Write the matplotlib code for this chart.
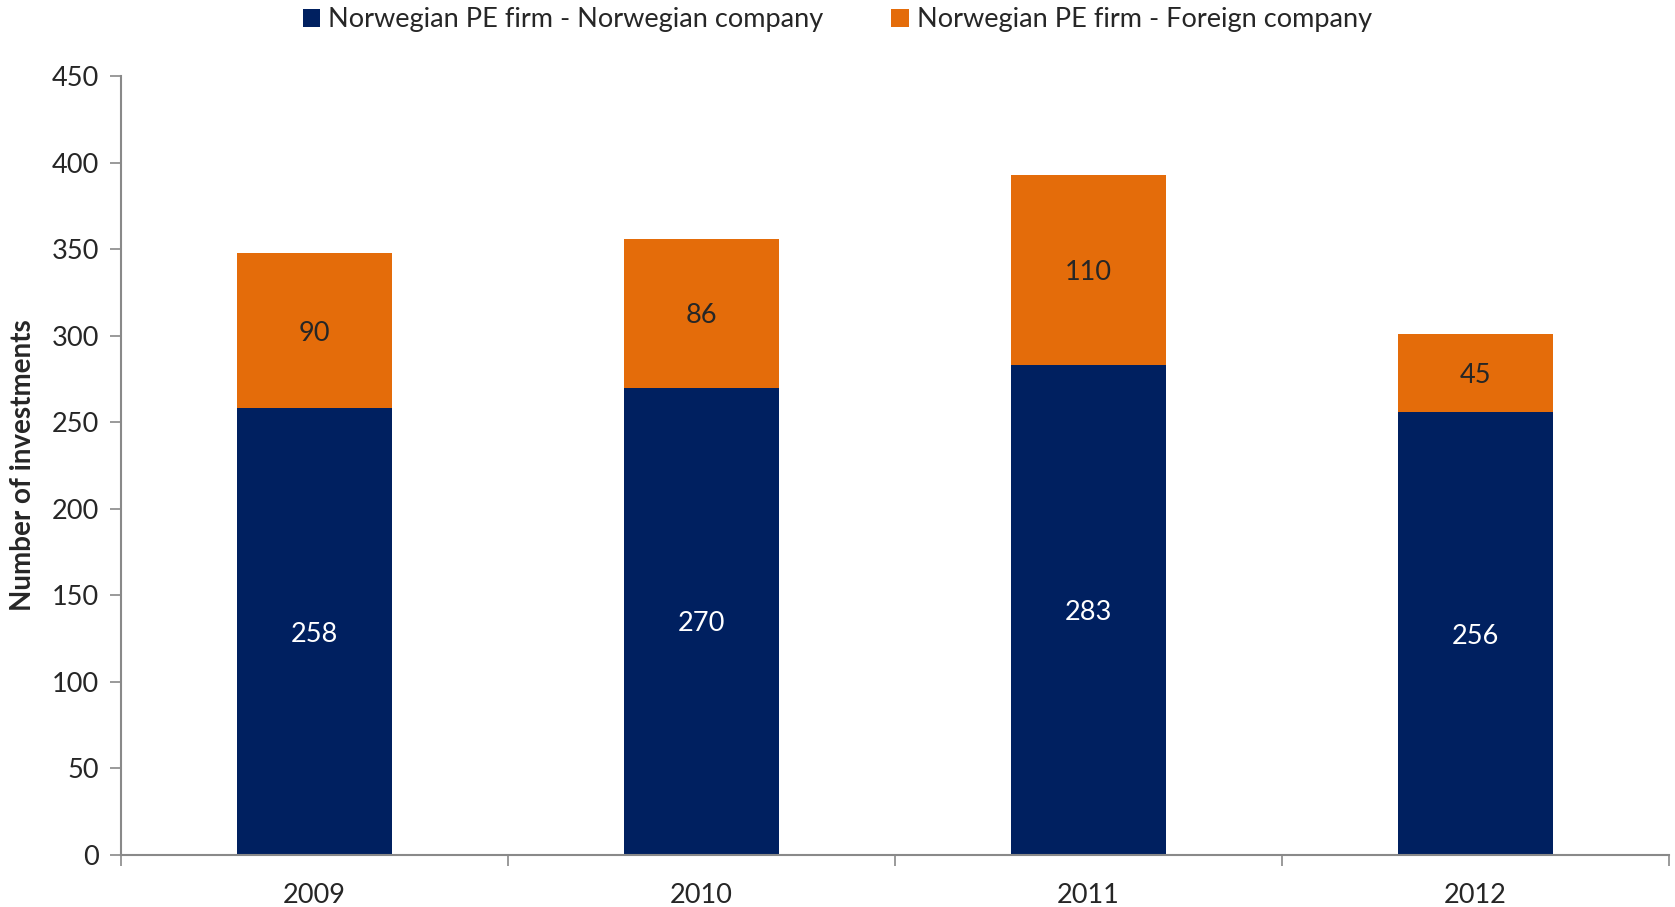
import matplotlib
matplotlib.use('Agg')
import matplotlib.pyplot as plt
import numpy as np

plt.rcParams['font.family'] = ['Lato', 'DejaVu Sans']

years = ['2009', '2010', '2011', '2012']
norw_company = [258, 270, 283, 256]
foreign_company = [90, 86, 110, 45]
labels = ['Norwegian PE firm - Norwegian company', 'Norwegian PE firm - Foreign company']

navy = '#002060'
orange = '#E46C0A'
txt = '#262626'
axcol = '#898989'
fs = 19.5

fig = plt.figure(figsize=(16.75, 9.07), dpi=100)
ax = fig.add_axes([121/1675, 1 - 855/907, (1669-121)/1675, (855-76)/907])

x = np.arange(len(years))
b1 = ax.bar(x, norw_company, width=0.4, color=navy, label=labels[0], zorder=2)
b2 = ax.bar(x, foreign_company, width=0.4, bottom=norw_company, color=orange,
            label=labels[1], zorder=2)

# segment values
for i in range(len(years)):
  ax.text(x[i], norw_company[i] / 2 - 1.5, str(norw_company[i]), ha='center', va='center',
          color='white', fontsize=fs)
  ax.text(x[i], norw_company[i] + foreign_company[i] / 2 - 1.5, str(foreign_company[i]),
          ha='center', va='center', color=txt, fontsize=fs)

ax.set_xlim(-0.5, len(years) - 0.5)
ax.set_ylim(0, 450)
ax.set_yticks(range(0, 451, 50))
ax.set_xticks(x)
ax.set_xticklabels(years)
ax.set_xticks(np.arange(-0.5, len(years), 1.0), minor=True)
ax.tick_params(axis='x', which='major', length=0, pad=20, labelsize=fs, labelcolor=txt)
ax.tick_params(axis='x', which='minor', length=8, width=1.2, color=axcol, direction='out')
ax.tick_params(axis='y', length=8, width=1.2, color=axcol, labelsize=fs, labelcolor=txt, pad=8)

for s in ['top', 'right']:
  ax.spines[s].set_visible(False)
for s in ['left', 'bottom']:
  ax.spines[s].set_color(axcol)
  ax.spines[s].set_linewidth(1.5)

ax.set_ylabel('Number of investments', fontsize=20, fontweight='bold', color=txt)
ax.yaxis.set_label_coords((36 - 121) / (1669 - 121), 0.5)

fig.legend(handles=[b1, b2], labels=labels, loc='center', bbox_to_anchor=(0.5, 1 - 20/907),
           ncol=2, frameon=False, fontsize=fs, handlelength=0.65, handleheight=0.65,
           handletextpad=0.3, columnspacing=2.5, labelcolor=txt)

fig.savefig('out.png', dpi=100)
